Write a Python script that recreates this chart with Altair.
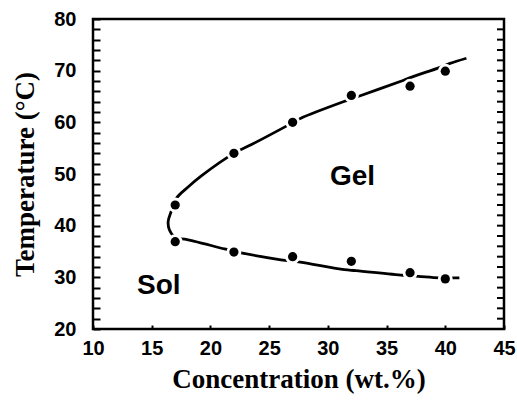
import altair as alt
import pandas as pd

# measured points
conc = [17, 22, 27, 32, 37, 40]
upper_T = [44.0, 54.0, 60.0, 65.2, 67.0, 69.9]
lower_T = [36.9, 34.9, 34.0, 33.1, 30.9, 29.7]

# phase boundary curve vertices (upper end -> lower end)
curve_x = [41.8, 40.4, 39.5, 37.2, 36.4, 32.7, 31.7, 27.7, 26.9, 23.5, 22.0, 19.2,
           18.0, 17.1, 16.65, 16.4, 16.5, 16.9, 17.3, 17.8, 21.2, 22.5, 26.0, 27.5,
           31.4, 32.4, 36.4, 37.7, 39.5, 41.2]
curve_T = [72.4, 71.4, 70.6, 68.8, 68.1, 65.1, 64.3, 60.8, 59.8, 55.7, 54.0, 49.6,
           47.3, 45.3, 42.7, 40.8, 39.2, 37.9, 37.5, 37.4, 35.5, 34.8, 33.4, 33.0,
           31.5, 31.3, 30.4, 30.2, 29.9, 29.9]

# region labels
region_text = ["Gel", "Sol"]
region_x = [32.1, 15.6]
region_T = [49.4, 28.3]

x_ticks = [10, 15, 20, 25, 30, 35, 40, 45]
y_ticks = list(range(20, 81, 2))

pts = pd.DataFrame({"c": conc + conc, "T": upper_T + lower_T})
curve = pd.DataFrame({"c": curve_x, "T": curve_T, "i": list(range(len(curve_x)))})
labels = pd.DataFrame({"t": region_text, "c": region_x, "T": region_T})
rticks = pd.DataFrame({"T": y_ticks})

xs = alt.Scale(domain=[10, 45], nice=False, zero=False)
ys = alt.Scale(domain=[20, 80], nice=False, zero=False)

x_axis = alt.Axis(
    title="Concentration (wt.%)", values=x_ticks, orient="bottom", grid=False,
    offset=-4, tickSize=4, tickWidth=2, tickColor="black", domain=False,
    labelFlush=False, labelOverlap=False,
    labelFont="Liberation Sans", labelFontWeight="bold", labelFontSize=20,
    labelColor="black", labelPadding=9,
    titleFont="Liberation Serif", titleFontWeight="bold", titleFontSize=27,
    titleColor="black", titlePadding=8,
)
y_axis = alt.Axis(
    title="Temperature (°C)", values=y_ticks, orient="left", grid=False,
    labelExpr="datum.value % 10 === 0 ? datum.label : ''",
    labelFlush=False, labelOverlap=False,
    offset=-7, tickSize=7, tickWidth=2, tickColor="black", domain=False,
    labelFont="Liberation Sans", labelFontWeight="bold", labelFontSize=20,
    labelColor="black", labelPadding=17,
    titleFont="Liberation Serif", titleFontWeight="bold", titleFontSize=27,
    titleColor="black", titlePadding=14,
)

X = alt.X("c:Q", scale=xs, axis=x_axis)
Y = alt.Y("T:Q", scale=ys, axis=y_axis)

line = alt.Chart(curve).mark_line(
    color="black", strokeWidth=2.8, interpolate="catmull-rom"
).encode(x=X, y=Y, order="i:Q")

right_ticks = alt.Chart(rticks).mark_rule(color="black", strokeWidth=2).encode(
    x=alt.value(404),
    x2=alt.value(411),
    y=Y,
)

halo = alt.Chart(pts).mark_circle(color="white", opacity=1, size=220).encode(x=X, y=Y)

dots = alt.Chart(pts).mark_circle(color="black", opacity=1, size=85).encode(x=X, y=Y)

text = alt.Chart(labels).mark_text(
    font="Liberation Sans", fontSize=28, color="black", fontWeight="bold"
).encode(x=X, y=Y, text="t:N")

chart = alt.layer(line, right_ticks, halo, dots, text).properties(
    width=411, height=310,
    autosize=alt.AutoSizeParams(type="none"),
    padding={"left": 93, "top": 19, "right": 13, "bottom": 77},
    background="white",
).configure_view(stroke="black", strokeWidth=2.5)

chart.save("out.html", embed_options={"renderer": "svg", "actions": False})
